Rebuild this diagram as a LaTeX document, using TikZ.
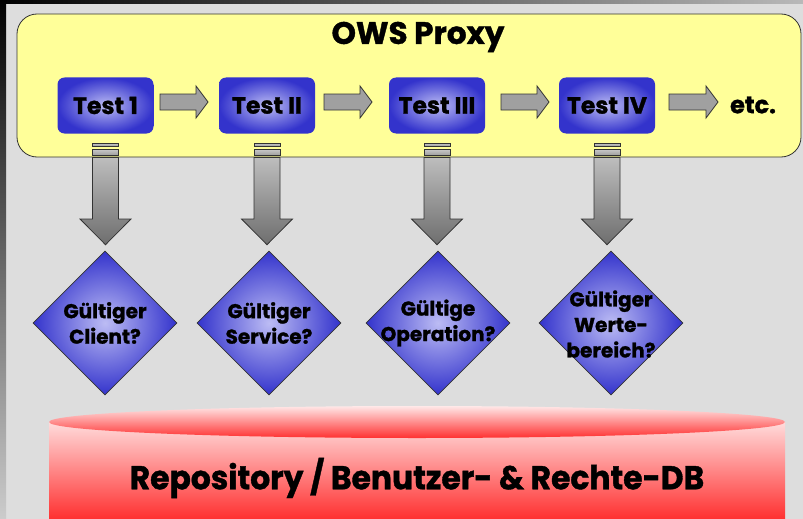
\documentclass[tikz,border=0pt]{standalone}
\usepackage{fontspec}
\usepackage{graphicx}
\setmainfont{Poppins}[BoldFeatures={FakeBold=1.2}]
\usetikzlibrary{shapes.geometric,calc}
\definecolor{bg}{HTML}{DDDDDD}
\definecolor{proxy}{HTML}{FFFF99}
\definecolor{bluein}{HTML}{BCBCF4}
\definecolor{blueout}{HTML}{3333CC}
\definecolor{edge}{HTML}{333333}
\definecolor{arrgray}{HTML}{A0A0A0}
\definecolor{vtop}{HTML}{BDBDBD}
\definecolor{vbot}{HTML}{6E6E6E}
\definecolor{dbtop}{HTML}{FFDCDC}
\definecolor{dbbot}{HTML}{FF3030}
\definecolor{eltop}{HTML}{FFE8E8}
\tikzset{
  testbox/.style={rounded corners=7pt, minimum width=96pt, minimum height=56pt,
    inner color=bluein, outer color=blueout, font=\fontsize{23.5}{26}\selectfont\bfseries},
  diam/.style={diamond, aspect=1, minimum width=144pt, minimum height=144pt, inner sep=0pt,
    draw=edge, line width=0.6pt, inner color=bluein, outer color=blueout},
  diamtext/.style={align=center, font=\fontsize{20}{25.5}\selectfont\bfseries},
  harrow/.style={draw=edge, line width=0.8pt, fill=arrgray},
  varrow/.style={draw=edge, line width=0.8pt, top color=vtop, bottom color=vbot},
  barbox/.style={draw=edge, line width=0.7pt, top color=vtop!80, bottom color=arrgray}
}
\begin{document}
\begin{tikzpicture}[x=1pt,y=1pt]
\useasboundingbox (0,0) rectangle (803,-519);
\fill[bg] (0,0) rectangle (803,-519);
\shade[left color=black, right color=gray!55] (0,0) rectangle (803,-4);
\shade[top color=black, bottom color=gray!40] (0,0) rectangle (6,-519);

% proxy box
\draw[draw=edge, line width=0.8pt, fill=proxy, rounded corners=20pt] (17,-14) rectangle (801,-157);
\node[font=\fontsize{31}{33}\selectfont\bfseries] (title) at (418,-37) {OWS Proxy};

% tests
\node[testbox] (t1) at (105.5,-105.5) {Test 1};
\node[testbox] (t2) at (267,-105.5) {Test II};
\node[testbox] (t3) at (437,-105.5) {Test III};
\node[testbox] (t4) at (607,-105.5) {Test IV};
\node[font=\fontsize{24}{26}\selectfont\bfseries] (etc) at (753,-105) {etc.};

% horizontal block arrows
\foreach \k/\xa/\xb in {1/160/208, 2/324/372, 3/501/549, 4/669/718}{
  \coordinate (hs\k) at (\xa,-102);
  \coordinate (he\k) at (\xb,-102);
  \draw[harrow] let \p1=(hs\k), \p2=(he\k) in
    (\x1,\y1+8) -- (\x2-12,\y1+8) -- (\x2-12,\y1+16) -- (\x2,\y1) --
    (\x2-12,\y1-16) -- (\x2-12,\y1-8) -- (\x1,\y1-8) -- cycle;
}

% diamonds
\node[diam] (d1) at (105,-323) {};
\node[diam] (d2) at (269,-323) {};
\node[diam] (d3) at (438,-323) {};
\node[diam] (d4) at (611,-323) {};
\node[diamtext] (d1t) at (d1.center) {Gültiger\\Client?};
\node[diamtext] (d2t) at (d2.center) {Gültiger\\Service?};
\node[diamtext] (d3t) at (d3.center) {Gültige\\Operation?};
\node[diamtext] (d4t) at (611,-324) {Gültiger\\Werte-\\bereich?};

% vertical arrows
\foreach \k in {1,...,4}{
  \draw[barbox] let \p1=(t\k.south) in (\x1-13,-143) rectangle (\x1+13,-146);
  \draw[barbox] let \p1=(t\k.south) in (\x1-13,-149) rectangle (\x1+13,-155);
  \draw[varrow] let \p1=(t\k.south), \p2=(d\k.north) in
    (\x1-13,-157.5) -- (\x1-13,-219) -- (\x1-25.5,-219) -- (\x1,\y2+6) --
    (\x1+25.5,-219) -- (\x1+13,-219) -- (\x1+13,-157.5) -- cycle;
}

% database cylinder
\shade[top color=dbtop, bottom color=dbbot] (49,-422) rectangle (785,-519);
\shade[top color=eltop, bottom color=dbbot] (417,-422) ellipse [x radius=368pt, y radius=16pt];
\node[font=\fontsize{33}{35}\selectfont\bfseries] (db) at (417,-478) {\scalebox{0.95}[1]{Repository / Benutzer- \& Rechte-DB}};
\end{tikzpicture}
\end{document}
